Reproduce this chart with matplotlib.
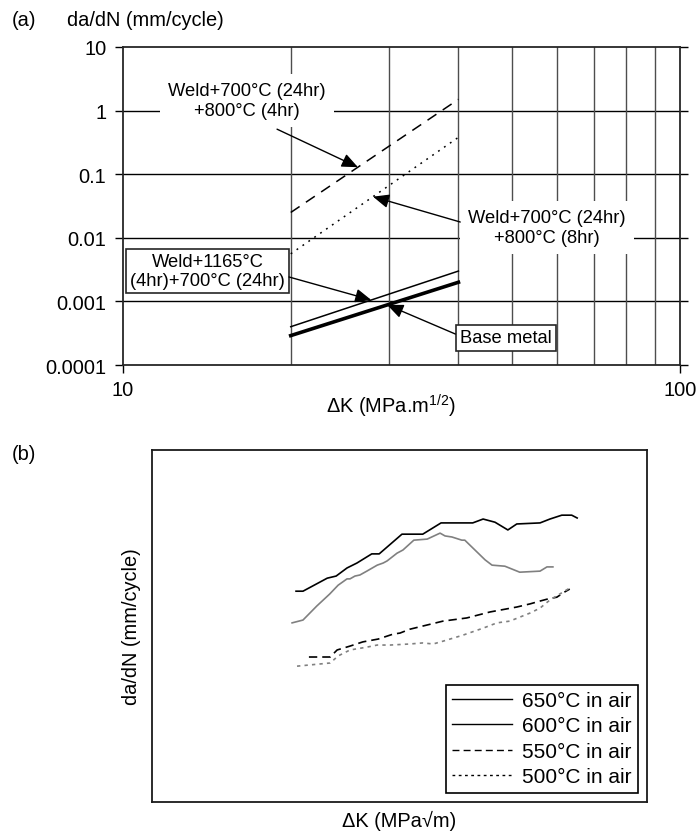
import numpy as np
import matplotlib
matplotlib.use("Agg")
import matplotlib.pyplot as plt

plt.rcParams['font.family'] = ['Liberation Sans', 'DejaVu Sans']
plt.rcParams['mathtext.fontset'] = 'custom'
plt.rcParams['mathtext.rm'] = 'Liberation Sans'
plt.rcParams['mathtext.it'] = 'Liberation Sans:italic'

# ---- panel (a): Paris-law lines, log-log ----
dk_range = [20, 40]
weld_4hr = [0.025, 1.5]      # Weld+700C(24hr)+800C(4hr)
weld_8hr = [0.0056, 0.38]    # Weld+700C(24hr)+800C(8hr)
weld_1165 = [0.0004, 0.003]  # Weld+1165C(4hr)+700C(24hr)
base_metal = [0.00029, 0.002]

a_yticks = [1e-4, 1e-3, 1e-2, 1e-1, 1, 10]
a_ytick_labels = ['0.0001', '0.001', '0.01', '0.1', '1', '10']
a_xticks = [10, 100]
a_xgrid = [20, 30, 40, 50, 60, 70, 80, 90]

# ---- panel (b): crack growth curves, arbitrary scale ----
x650 = [29.1, 30.5, 35.4, 37.2, 39.4, 41.4, 44.4, 45.9, 50.5, 54.7, 58.4,
        64.8, 66.9, 69.3, 71.9, 73.7, 78.4, 80.4, 82.8, 84.8, 85.9]
y650 = [59.9, 59.9, 63.6, 64.2, 66.5, 67.9, 70.5, 70.5, 76.1, 76.1, 79.3,
        79.3, 80.4, 79.5, 77.3, 79.0, 79.3, 80.4, 81.5, 81.5, 80.7]

x600 = [28.3, 30.5, 33.3, 35.9, 37.6, 39.4, 40.0, 41.0, 42.0, 43.4, 45.5,
        46.7, 47.5, 49.5, 50.7, 52.9, 55.6, 58.2, 59.2, 60.6, 62.6, 63.2,
        67.3, 68.7, 71.3, 74.3, 78.4, 79.8, 81.0]
y600 = [50.9, 51.7, 55.7, 59.1, 61.6, 63.4, 63.4, 64.2, 64.5, 65.6, 67.3,
        67.9, 68.5, 70.7, 71.6, 74.4, 74.7, 76.4, 75.6, 75.3, 74.4, 74.4,
        68.8, 67.3, 67.0, 65.3, 65.6, 66.8, 66.8]

x550 = [31.7, 36.0, 37.4, 40.0, 42.6, 45.7, 48.7, 50.1, 52.1, 55.6, 58.8,
        63.6, 68.3, 73.7, 76.4, 78.4, 80.0, 81.8, 83.4, 84.4]
y550 = [41.2, 41.2, 43.2, 44.3, 45.5, 46.3, 47.7, 48.0, 49.1, 50.3, 51.4,
        52.3, 54.0, 55.4, 56.3, 57.1, 57.7, 58.2, 59.7, 60.5]

x500 = [29.3, 36.0, 37.6, 40.0, 43.4, 45.5, 48.1, 52.1, 54.7, 56.8, 58.8,
        62.8, 66.9, 69.7, 72.3, 76.4, 78.4, 80.4, 82.4, 84.4]
y500 = [38.6, 39.5, 41.5, 43.2, 44.0, 44.6, 44.6, 44.9, 45.2, 44.9, 45.7,
        47.4, 49.4, 50.9, 51.4, 53.7, 55.1, 57.4, 59.1, 60.8]

b_labels = ['650°C in air', '600°C in air', '550°C in air', '500°C in air']


def on_line(dk, ends):
    """da/dN on a straight log-log line between dk_range ends"""
    s = np.log10(ends[1] / ends[0]) / np.log10(dk_range[1] / dk_range[0])
    return ends[0] * (dk / dk_range[0]) ** s


fig = plt.figure(figsize=(6.99, 8.37), dpi=100)

# panel (a)
ax = fig.add_axes([0.176, 0.5627, 0.797, 0.380])
ax.set_xscale('log')
ax.set_yscale('log')
ax.set_xlim(10, 100)
ax.set_ylim(1e-4, 10)

ax.set_yticks(a_yticks)
ax.set_yticklabels(a_ytick_labels)
ax.yaxis.set_minor_locator(matplotlib.ticker.NullLocator())
ax.set_xticks(a_xticks)
ax.set_xticklabels([str(v) for v in a_xticks])
ax.set_xticks(a_xgrid, minor=True)
ax.xaxis.set_minor_formatter(matplotlib.ticker.NullFormatter())
ax.tick_params(axis='both', which='major', direction='out', length=6,
               width=1, labelsize=14.4, colors='k')
ax.tick_params(axis='y', which='major', right=True, pad=6)
ax.tick_params(axis='x', which='major', pad=5)
ax.tick_params(axis='x', which='minor', length=0)
for v in a_yticks[1:-1]:
    ax.axhline(v, color='k', lw=1.0, zorder=1)
for v in a_xgrid:
    ax.axvline(v, color='0.3', lw=1.0, zorder=1)
for sp in ax.spines.values():
    sp.set_linewidth(1.3)
    sp.set_color('0.15')

ax.plot(dk_range, weld_4hr, color='k', lw=1.1, ls=(0, (7, 5)), zorder=3)
ax.plot(dk_range, weld_8hr, color='k', lw=1.1, ls=(0, (1.2, 3.5)), zorder=3)
ax.plot(dk_range, weld_1165, color='k', lw=1.1, zorder=3)
ax.plot(dk_range, base_metal, color='k', lw=2.6, zorder=3)

arrow = dict(arrowstyle='-|>,head_length=0.65,head_width=0.28', color='k',
             lw=1.0, shrinkA=0, shrinkB=0, mutation_scale=15)
ann_fs = 13.2

ax.text(16.7, 1.45, 'Weld+700°C (24hr)\n+800°C (4hr)', fontsize=ann_fs,
        ha='center', va='center', multialignment='center', zorder=4,
        bbox=dict(boxstyle='square,pad=0.45', fc='white', ec='none'))
ax.annotate('', xy=(26.4, on_line(26.4, weld_4hr)), xytext=(18.9, 0.51),
            arrowprops=arrow, zorder=5)

ax.text(57.6, 0.0145, 'Weld+700°C (24hr)\n+800°C (8hr)', fontsize=ann_fs,
        ha='center', va='center', multialignment='center', zorder=4,
        bbox=dict(boxstyle='square,pad=0.45', fc='white', ec='none'))
ax.annotate('', xy=(28.1, on_line(28.1, weld_8hr)), xytext=(40.3, 0.0177),
            arrowprops=arrow, zorder=5)

ax.text(14.18, 0.003, 'Weld+1165°C\n(4hr)+700°C (24hr)', fontsize=ann_fs,
        ha='center', va='center', multialignment='center', zorder=4,
        bbox=dict(boxstyle='square,pad=0.22', fc='white', ec='0.15', lw=1.2))
ax.annotate('', xy=(27.9, on_line(27.9, weld_1165)), xytext=(19.86, 0.00242),
            arrowprops=arrow, zorder=5)

ax.text(48.7, 0.000266, 'Base metal', fontsize=ann_fs,
        ha='center', va='center', zorder=4,
        bbox=dict(boxstyle='square,pad=0.22', fc='white', ec='0.15', lw=1.2))
ax.annotate('', xy=(29.8, on_line(29.8, base_metal)), xytext=(39.5, 0.000307),
            arrowprops=arrow, zorder=5)

ax.set_xlabel('ΔK (MPa.m$^{\\mathregular{1/2}}$)', fontsize=14.4)
ax.xaxis.set_label_coords(0.48, -0.085)

fig.text(12 / 699, 1 - 20 / 837, '(a)', fontsize=14.4, va='center')
fig.text(67 / 699, 1 - 20 / 837, 'da/dN (mm/cycle)', fontsize=14.4, va='center')

# panel (b)
bx = fig.add_axes([0.2175, 0.0406, 0.708, 0.4205])
bx.set_xlim(0, 100)
bx.set_ylim(0, 100)
bx.set_xticks([])
bx.set_yticks([])
for sp in bx.spines.values():
    sp.set_linewidth(1.3)
    sp.set_color('0.1')

bx.plot(x650, y650, color='k', lw=1.2, label=b_labels[0])
bx.plot(x600, y600, color='0.5', lw=1.2, label=b_labels[1])
bx.plot(x550, y550, color='k', lw=1.2, ls=(0, (5, 3)), label=b_labels[2])
bx.plot(x500, y500, color='0.5', lw=1.2, ls=(0, (2, 2.5)), label=b_labels[3])

leg = bx.legend(loc='lower right', fontsize=15, frameon=True, fancybox=False,
                framealpha=1, edgecolor='k', handlelength=2.9,
                handletextpad=0.45, labelspacing=0.31, borderaxespad=0.45,
                borderpad=0.3)
leg.get_frame().set_linewidth(1.2)
for ln in leg.get_lines():
    ln.set_color('k')
    ln.set_linewidth(1.0)

bx.set_xlabel('ΔK (MPa√m)', fontsize=14.4, labelpad=6)
bx.set_ylabel('da/dN (mm/cycle)', fontsize=14.4, labelpad=8)

fig.text(12 / 699, 1 - 454 / 837, '(b)', fontsize=14.4, va='center')

fig.savefig('out.png', dpi=100)
